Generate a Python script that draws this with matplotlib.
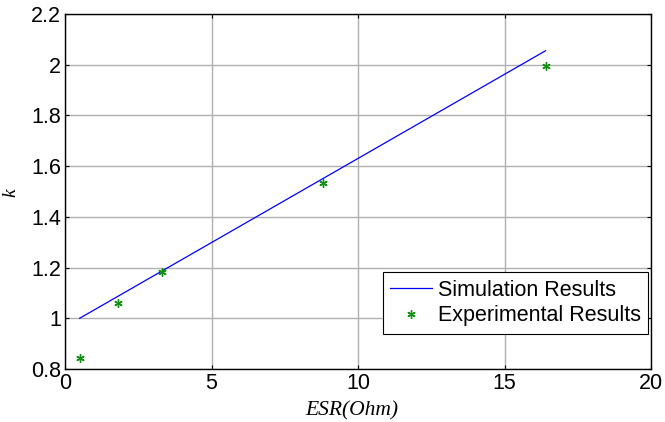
import matplotlib
matplotlib.use("Agg")
import matplotlib.pyplot as plt

sim_x = [0.5, 16.4]
sim_y = [1.0, 2.055]
exp_x = [0.5, 1.8, 3.3, 8.8, 16.4]
exp_y = [0.845, 1.062, 1.182, 1.535, 1.993]
xticks = [0, 5, 10, 15, 20]
yticks = [0.8, 1.0, 1.2, 1.4, 1.6, 1.8, 2.0, 2.2]
ytick_labels = ["0.8", "1", "1.2", "1.4", "1.6", "1.8", "2", "2.2"]

plt.rcParams['font.family'] = ['Liberation Sans', 'DejaVu Sans']
fig = plt.figure(figsize=(6.65, 4.22), dpi=100)
ax = fig.add_axes([65/665, 1-369/422, (651-65)/665, (369-14)/422])

ax.plot(sim_x, sim_y, color='blue', lw=0.9, label='Simulation Results')
ax.plot(exp_x, exp_y, linestyle='none', marker=(6, 2, 0), markersize=6,
        markeredgewidth=1.0, color='#109010', label='Experimental Results')

ax.set_xlim(0, 20)
ax.set_ylim(0.8, 2.2)
ax.set_xticks(xticks)
ax.set_xticklabels([str(t) for t in xticks])
ax.set_yticks(yticks)
ax.set_yticklabels(ytick_labels)
ax.tick_params(direction='in', length=3, labelsize=15.5, width=0.8,
               top=True, right=True, pad=3)
ax.grid(True, color='#b0b0b0', lw=1.0)
ax.set_axisbelow(True)
for s in ax.spines.values():
    s.set_linewidth(1.0)

ax.set_xlabel('ESR(Ohm)', fontfamily='Liberation Serif', fontstyle='italic',
              fontsize=15.5)
ax.xaxis.set_label_coords(0.49, -0.09)
ax.set_ylabel('k', fontfamily='Liberation Serif', fontstyle='italic',
              fontsize=14)
ax.yaxis.set_label_coords(-0.078, 0.496)

leg = ax.legend(loc='lower right', bbox_to_anchor=(0.995, 0.0986),
                borderaxespad=0, fontsize=15.5, frameon=True, fancybox=False,
                edgecolor='black', framealpha=1, borderpad=0.35,
                handlelength=1.95, handletextpad=0.25, labelspacing=0.22)
leg.get_frame().set_linewidth(0.8)

fig.savefig('out.png', dpi=100)
